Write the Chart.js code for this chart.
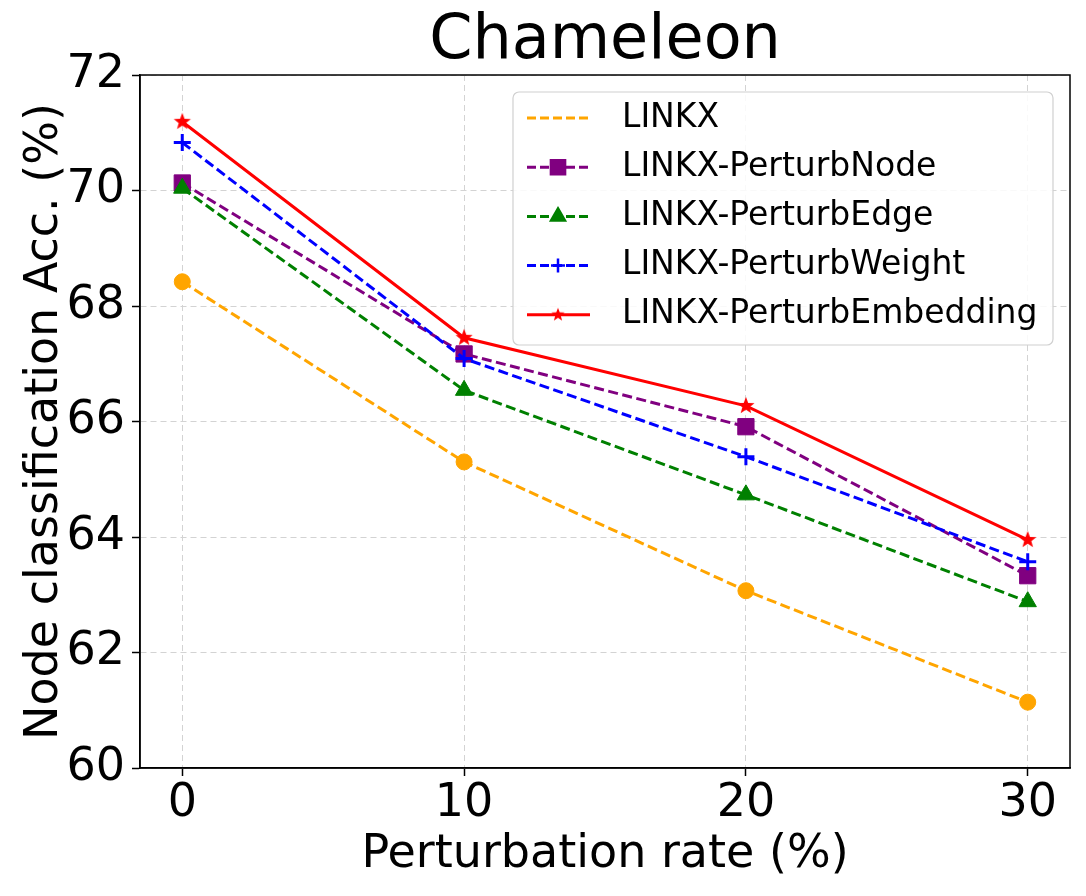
<!DOCTYPE html>
<html>
<head>
<meta charset="utf-8">
<script src="https://cdn.jsdelivr.net/npm/chart.js@4.4.1/dist/chart.umd.min.js"></script>
<style>
  html, body { margin: 0; padding: 0; background: #fff; }
  #wrap { width: 1086px; height: 896px; }
</style>
</head>
<body>
<div id="wrap"><canvas id="chart" width="1086" height="896"></canvas></div>
<script>
// ================= DATA =================
const rates = [0, 10, 20, 30];
const yTicks = [60, 62, 64, 66, 68, 70, 72];

const linkx = [68.42, 65.30, 63.07, 61.14];
const perturbNode = [70.13, 67.17, 65.91, 63.33];
const perturbEdge = [70.04, 66.54, 64.73, 62.88];
const perturbWeight = [70.83, 67.09, 65.39, 63.57];
const perturbEmbedding = [71.19, 67.45, 66.27, 63.95];

const chartTitle = "Chameleon";

const FONT = "'DejaVu Sans', 'Liberation Sans', sans-serif";

// ================= STAR MARKER =================
function makeStar(color, outer) {
    const c = document.createElement("canvas");
    const s = Math.ceil(outer * 2 + 2);
    c.width = s;
    c.height = s;
    const g = c.getContext("2d");
    const cx = s / 2, cy = s / 2, inner = outer * 0.42;
    g.beginPath();
    for (let i = 0; i < 10; i++) {
        const r = i % 2 === 0 ? outer : inner;
        const a = -Math.PI / 2 + i * Math.PI / 5;
        const px = cx + r * Math.cos(a), py = cy + r * Math.sin(a);
        if (i === 0) g.moveTo(px, py); else g.lineTo(px, py);
    }
    g.closePath();
    g.fillStyle = color;
    g.fill();
    return c;
}
const starImg = makeStar("red", 9);
const starSmall = makeStar("red", 7);

function pts(arr) {
    return arr.map((v, i) => ({ x: rates[i], y: v }));
}

const dash = [10, 4.5];

const datasets = [
    {
        label: "LINKX", data: pts(linkx),
        borderColor: "orange", backgroundColor: "orange", borderDash: dash,
        pointStyle: "circle", pointRadius: 8, order: 5
    },
    {
        label: "LINKX-PerturbNode", data: pts(perturbNode),
        borderColor: "purple", backgroundColor: "purple", borderDash: dash,
        pointStyle: "rect", pointRadius: 11.5, order: 4
    },
    {
        label: "LINKX-PerturbEdge", data: pts(perturbEdge),
        borderColor: "green", backgroundColor: "green", borderDash: dash,
        pointStyle: "triangle", pointRadius: 10, order: 3
    },
    {
        label: "LINKX-PerturbWeight", data: pts(perturbWeight),
        borderColor: "blue", backgroundColor: "blue", borderDash: dash,
        pointStyle: "cross", pointRadius: 8.5, pointBorderWidth: 3, order: 2
    },
    {
        label: "LINKX-PerturbEmbedding", data: pts(perturbEmbedding),
        borderColor: "red", backgroundColor: "red", borderDash: [],
        pointStyle: starImg, pointRadius: 9, order: 1
    }
];

// ================= PLUGINS =================
const frame = {
    id: "frame",
    afterDatasetsDraw(chart) {
        const a = chart.chartArea, ctx = chart.ctx;
        ctx.save();
        ctx.strokeStyle = "black";
        ctx.lineWidth = 1.5;
        ctx.setLineDash([]);
        ctx.strokeRect(a.left, a.top, a.right - a.left, a.bottom - a.top);
        ctx.restore();
    }
};

// title centred over the plot area, like matplotlib does
const areaTitle = {
    id: "areaTitle",
    afterDraw(chart) {
        const a = chart.chartArea, ctx = chart.ctx;
        ctx.save();
        ctx.fillStyle = "black";
        ctx.font = "62px " + FONT;
        ctx.textAlign = "center";
        ctx.textBaseline = "middle";
        ctx.fillText(chartTitle, (a.left + a.right) / 2, 42);
        ctx.restore();
    }
};

const innerLegend = {
    id: "innerLegend",
    afterDraw(chart) {
        const ctx = chart.ctx;
        const x0 = 513, y0 = 92, w = 540, h = 253;
        ctx.save();
        ctx.beginPath();
        ctx.roundRect(x0, y0, w, h, 6);
        ctx.fillStyle = "rgba(255,255,255,0.85)";
        ctx.fill();
        ctx.strokeStyle = "#d0d0d0";
        ctx.lineWidth = 1.2;
        ctx.stroke();

        chart.data.datasets.forEach((ds, i) => {
            const y = 118 + i * 49.2;
            ctx.beginPath();
            ctx.setLineDash(ds.borderDash.length ? [9, 4] : []);
            ctx.strokeStyle = ds.borderColor;
            ctx.lineWidth = 3;
            ctx.moveTo(527, y);
            ctx.lineTo(590, y);
            ctx.stroke();
            ctx.setLineDash([]);
            if (i > 0) {
                ctx.fillStyle = ds.backgroundColor;
                ctx.strokeStyle = ds.borderColor;
                ctx.lineWidth = 2.5;
                let style = ds.pointStyle, r = 8;
                if (style === "cross") r = 7;
                if (style === "rect") r = 10;
                if (style === starImg) style = starSmall;
                Chart.helpers.drawPoint(ctx, {
                    pointStyle: style,
                    radius: r,
                    rotation: 0,
                    borderWidth: 2.5
                }, 558, y);
            }
            ctx.fillStyle = "black";
            ctx.font = "33px " + FONT;
            ctx.textBaseline = "middle";
            ctx.textAlign = "left";
            ctx.fillText(ds.label, 622, y);
        });
        ctx.restore();
    }
};

// ================= CHART =================
const gridCommon = {
    color: "#d3d3d3",
    lineWidth: 1,
    drawTicks: true,
    tickLength: 8,
    tickColor: "black",
    tickWidth: 1.5,
    tickBorderDash: []
};

new Chart(document.getElementById("chart"), {
    type: "line",
    data: { datasets: datasets },
    options: {
        responsive: false,
        animation: false,
        events: [],
        elements: {
            line: { borderWidth: 3, tension: 0 },
            point: { borderWidth: 1, hoverRadius: 0 }
        },
        layout: { padding: { left: 0, right: 16, top: 75, bottom: 0 } },
        plugins: {
            legend: { display: false },
            tooltip: { enabled: false },
            title: { display: false }
        },
        scales: {
            x: {
                type: "linear",
                min: -1.5,
                max: 31.5,
                afterBuildTicks(scale) {
                    scale.ticks = rates.map(v => ({ value: v }));
                },
                afterFit(scale) { scale.height = 128; },
                grid: gridCommon,
                border: { display: true, color: "black", width: 1.5, dash: [6, 4] },
                ticks: {
                    color: "black",
                    padding: 0,
                    maxRotation: 0,
                    font: { family: FONT, size: 46 }
                },
                title: {
                    display: true,
                    text: "Perturbation rate (%)",
                    color: "black",
                    padding: { top: 0, bottom: 13 },
                    font: { family: FONT, size: 46 }
                }
            },
            y: {
                min: 60,
                max: 72,
                afterBuildTicks(scale) {
                    scale.ticks = yTicks.map(v => ({ value: v }));
                },
                afterFit(scale) { scale.width = 140; },
                grid: gridCommon,
                border: { display: true, color: "black", width: 1.5, dash: [6, 4] },
                ticks: {
                    color: "black",
                    padding: 7,
                    font: { family: FONT, size: 46 }
                },
                title: {
                    display: true,
                    text: "Node classification Acc. (%)",
                    color: "black",
                    padding: { top: 17, bottom: 0 },
                    font: { family: FONT, size: 46 }
                }
            }
        }
    },
    plugins: [frame, areaTitle, innerLegend]
});
</script>
</body>
</html>
